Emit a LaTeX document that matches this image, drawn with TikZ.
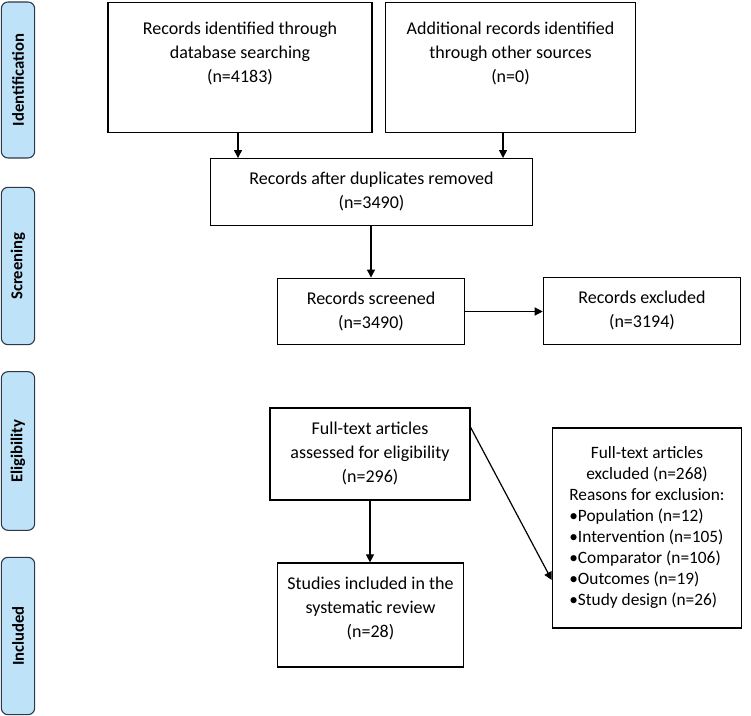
\documentclass[tikz,border=0pt]{standalone}
\usepackage{fontspec}
\setmainfont{Carlito}
\usepackage{xcolor}
\usetikzlibrary{arrows.meta}
\definecolor{tabblue}{RGB}{190,226,247}
\definecolor{tabedge}{RGB}{45,55,70}

\begin{document}
\begin{tikzpicture}[x=0.75pt,y=-0.75pt,
    box/.style={draw,line width=0.9pt,align=center,inner sep=0pt,
        font=\fontsize{13.5}{18}\selectfont},
    tab/.style={draw=tabedge,fill=tabblue,line width=0.8pt,rounded corners=5pt,
        minimum width=25pt,inner sep=0pt},
    tablabel/.style={rotate=90,font=\fontsize{12.5}{14}\selectfont\bfseries},
    arr/.style={-{Triangle[length=6pt,width=6pt]},line width=0.9pt}]
                \useasboundingbox (0,0) rectangle (751,716);
                % Phase tabs
                \node[tab,minimum height=117pt] (identtab) at (18,80) {};
                \node[tablabel] at (identtab) {Identification};
                \node[tab,minimum height=118pt] (screentab) at (18,266) {};
                \node[tablabel] at (screentab) {Screening};
                \node[tab,minimum height=119pt] (eligtab) at (18,451) {};
                \node[tablabel] at (eligtab) {Eligibility};
                \node[tab,minimum height=118pt] (incltab) at (18,636) {};
                \node[tablabel] at (incltab) {Included};
                % Identification
                \node[box,minimum width=198pt,minimum height=98pt] (dbsearch) at (240,67.5) {};
                \node[box,draw=none] at (240,54) {Records identified through\\database searching\\(n=4183)};
                \node[box,minimum width=188pt,minimum height=98pt] (othersrc) at (510.5,67.5) {};
                \node[box,draw=none] at (510.5,54) {Additional records identified\\through other sources\\(n=0)};
                % Screening
                \node[box,minimum width=241pt,minimum height=50pt] (dedup) at (371.5,192) {Records after duplicates removed\\(n=3490)};
                \node[box,minimum width=140pt,minimum height=50pt] (screened) at (371,311.5) {Records screened\\(n=3490)};
                \node[box,minimum width=148pt,minimum height=50pt] (excluded) at (642,311) {Records excluded\\(n=3194)};
                % Eligibility
                \node[box,minimum width=150pt,minimum height=69pt] (fulltext) at (370,454) {Full-text articles\\assessed for eligibility\\(n=296)};
                \node[box,minimum width=142pt,minimum height=150pt,
                    font=\fontsize{13}{15.8}\selectfont] (ftexcl) at (647,528) {%
                    \begin{tabular}{@{}l@{}}
                    \multicolumn{1}{@{}c@{}}{Full-text articles}\\
                    \multicolumn{1}{@{}c@{}}{excluded (n=268)}\\
                    Reasons for exclusion:\\
                    \textbullet Population (n=12)\\
                    \textbullet Intervention (n=105)\\
                    \textbullet Comparator (n=106)\\
                    \textbullet Outcomes (n=19)\\
                    \textbullet Study design (n=26)
                    \end{tabular}};
                % Included
                \node[box,minimum width=140pt,minimum height=78pt] (included) at (370.5,615) {};
                \node[box,draw=none] at (370.5,609) {Studies included in the\\systematic review\\(n=28)};
                % Arrows
                \draw[arr] ([xshift=-1.5pt]dbsearch.south) -- ([xshift=-1.5pt]dbsearch.south |- dedup.north);
                \draw[arr] ([xshift=-5.6pt]othersrc.south) -- ([xshift=-5.6pt]othersrc.south |- dedup.north);
                \draw[arr] (dedup.south -| screened.north) -- (screened.north);
                \draw[arr] (screened.east) -- (screened.east -| excluded.west);
                \draw[arr] (fulltext.south) -- (fulltext.south |- included.north);
                \draw[arr] ([yshift=20pt]fulltext.east) -- ([yshift=-39pt]ftexcl.west);
            \end{tikzpicture}
\end{document}
